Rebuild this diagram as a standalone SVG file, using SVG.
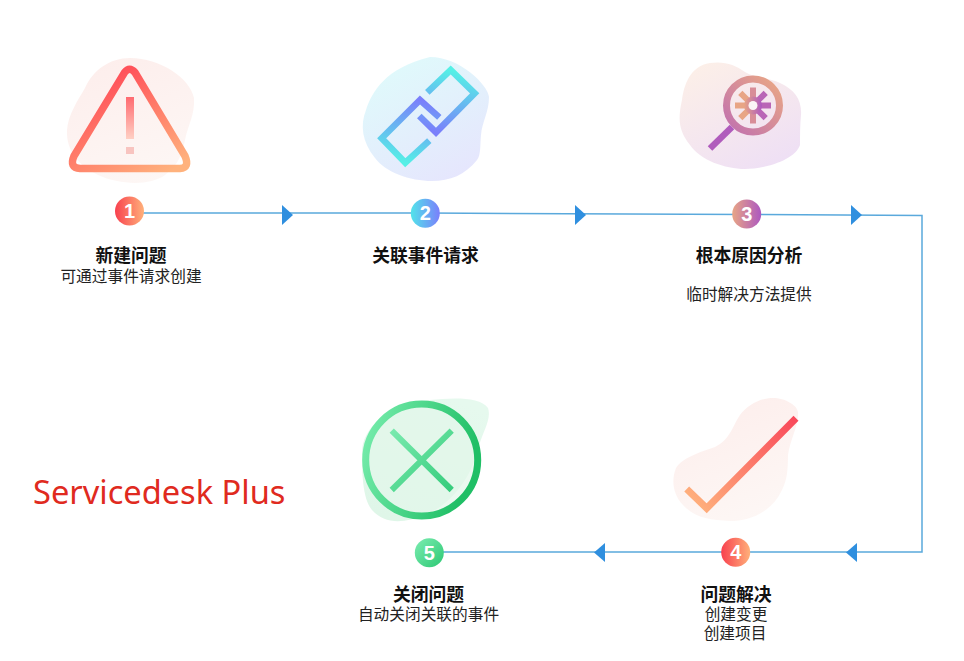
<svg xmlns="http://www.w3.org/2000/svg" width="964" height="661" viewBox="0 0 964 661">
<style>
.t{font-family:"Noto Sans CJK SC","Noto Sans",sans-serif;font-size:17.800px;font-weight:700;fill:#111;text-anchor:middle}
.s{font-family:"Noto Sans CJK SC","Noto Sans",sans-serif;font-size:15.700px;fill:#222;text-anchor:middle}
.n{font-family:"Liberation Sans",Arial,sans-serif;font-size:20px;font-weight:700;fill:#fff;text-anchor:middle}
.w{font-family:"Noto Sans",sans-serif;font-size:32.600px;fill:#e02a20}
.c{fill:none;stroke:#5aa9dc;stroke-width:1.500}
.a{fill:#2f8fdf}
.i{fill:none;stroke-linejoin:miter}
</style>
<defs>
<linearGradient id="red" x1="0.2" y1="0" x2="0.9" y2="1"><stop offset="0" stop-color="#ff4455"/><stop offset="1" stop-color="#ffb27d"/></linearGradient>
<linearGradient id="redv" x1="0" y1="0" x2="0" y2="1"><stop offset="0" stop-color="#ff6a70"/><stop offset="1" stop-color="#ffd0c4"/></linearGradient>
<linearGradient id="check" gradientUnits="userSpaceOnUse" x1="796" y1="418" x2="695" y2="510"><stop offset="0" stop-color="#f9485a"/><stop offset="1" stop-color="#ffb27d"/></linearGradient>
<linearGradient id="blobr" x1="0.3" y1="0" x2="0.7" y2="1"><stop offset="0" stop-color="#fdeeec"/><stop offset="1" stop-color="#fdf7f5"/></linearGradient>
<linearGradient id="blobb" x1="0.2" y1="0" x2="0.8" y2="1"><stop offset="0" stop-color="#dffbfb"/><stop offset="1" stop-color="#e6e5fd"/></linearGradient>
<linearGradient id="blobp" x1="0.2" y1="0" x2="0.8" y2="1"><stop offset="0" stop-color="#fcefe8"/><stop offset="1" stop-color="#eedff5"/></linearGradient>
<linearGradient id="blobg" x1="0.7" y1="0" x2="0.3" y2="1"><stop offset="0" stop-color="#e6f9ee"/><stop offset="1" stop-color="#dff6e8"/></linearGradient>
<linearGradient id="linka" gradientUnits="userSpaceOnUse" x1="450" y1="70" x2="436" y2="132"><stop offset="0" stop-color="#55f0e6"/><stop offset="1" stop-color="#7a7ffb"/></linearGradient>
<linearGradient id="linkb" gradientUnits="userSpaceOnUse" x1="405" y1="163" x2="420" y2="100"><stop offset="0" stop-color="#55f0e6"/><stop offset="1" stop-color="#7a7ffb"/></linearGradient>
<linearGradient id="mag" x1="0" y1="0" x2="1" y2="0"><stop offset="0" stop-color="#e8a585"/><stop offset="1" stop-color="#ad58c0"/></linearGradient>
<linearGradient id="magr" x1="0" y1="1" x2="1" y2="0"><stop offset="0" stop-color="#c070b0"/><stop offset="1" stop-color="#eaa884"/></linearGradient>
<linearGradient id="grn" x1="0" y1="0" x2="1" y2="0.3"><stop offset="0" stop-color="#7aeeaf"/><stop offset="1" stop-color="#20bf66"/></linearGradient>
<linearGradient id="grnx" gradientUnits="userSpaceOnUse" x1="392" y1="430" x2="452" y2="490"><stop offset="0" stop-color="#7aeaae"/><stop offset="1" stop-color="#35cc7c"/></linearGradient>
<linearGradient id="n1" x1="0" y1="0" x2="1" y2="0"><stop offset="0" stop-color="#f8414f"/><stop offset="1" stop-color="#ffb07a"/></linearGradient>
<linearGradient id="n2" x1="0" y1="0" x2="1" y2="0"><stop offset="0" stop-color="#52e4ea"/><stop offset="1" stop-color="#7a7ffb"/></linearGradient>
<linearGradient id="n5" x1="0" y1="0" x2="1" y2="1"><stop offset="0" stop-color="#7dedb2"/><stop offset="1" stop-color="#2cc873"/></linearGradient>
</defs>

<g id="connectors">
<path class="c" d="M143 213H425L747 214.500L922 215.500V552H430"/>
<polygon class="a" points="282,205 293,215 282,225"/>
<polygon class="a" points="575,205 586,215 575,225"/>
<polygon class="a" points="851,205 862,215 851,225"/>
<polygon class="a" points="857,543 846,552.500 857,562"/>
<polygon class="a" points="605,543 594,552.500 605,562"/>
</g>

<g id="node1">
<path fill="url(#blobr)" d="M130 58C160 58 190 78 194 98C195 115 188 125 185 140C182 155 178 165 165 175C150 186 120 185 98 175C78 165 66 150 67 130C68 115 78 100 85 88C93 70 110 58 130 58Z"/>
<path class="i" stroke="url(#red)" stroke-width="7.500" stroke-linejoin="round" d="M124.500 72.500Q129.500 66 135 72.500L185 156Q190 168 180 168.500H80Q69 168 74 156Z"/>
<rect x="126" y="97" width="8" height="42" fill="url(#redv)"/>
<rect x="126" y="147" width="8" height="7" fill="#f8c4c0"/>
<circle cx="129.500" cy="211" r="14.500" fill="url(#n1)"/>
<text class="n" x="129.500" y="218">1</text>
<text class="t" x="131" y="262">新建问题</text>
<text class="s" x="131" y="282">可通过事件请求创建</text>
</g>

<g id="node2">
<path fill="url(#blobb)" d="M430 57C460 57 488 85 489 97C489 112 482 122 481 135C480 145 481 155 477 160C465 175 450 181 432 181C410 181 385 172 375 158C362 142 360 125 366 110C372 92 385 68 430 57Z"/>
<path class="i" stroke="url(#linka)" stroke-width="6.500" d="M427.300 92.300L450.700 70L474.700 93.300L436 132.300L419.300 116"/>
<path class="i" stroke="url(#linkb)" stroke-width="6.500" d="M429.300 140.700L405.300 162.700L381.700 138.300L420 100L439.300 117.300"/>
<circle cx="425.300" cy="213.300" r="14.500" fill="url(#n2)"/>
<text class="n" x="425.300" y="220.300">2</text>
<text class="t" x="425.500" y="262">关联事件请求</text>
</g>

<g id="node3">
<path fill="url(#blobp)" d="M710 63C725 61 735 65 745 72C755 78 770 78 780 83C795 90 802 100 801 115C800 125 800 135 800 145C795 160 765 169 745 169C725 169 700 160 690 145C678 130 678 118 682 100C684 85 690 66 710 63Z"/>
<circle cx="753" cy="105.500" r="26.500" class="i" stroke="url(#magr)" stroke-width="7"/>
<path class="i" stroke="#b05cbc" stroke-width="6.500" d="M732 127L710 148.500"/>
<path stroke="#d88d98" stroke-width="6" d="M753 87.500V123.500" fill="none"/>
<path stroke="#b966b6" stroke-width="6" d="M759 105.500H771M757 101.500L765.700 92.800M757 109.500L765.700 118.200" fill="none"/>
<path stroke="#e8a585" stroke-width="6" d="M735 105.500H747M740.300 92.800L749 101.500M740.300 118.200L749 109.500" fill="none"/>
<circle cx="753" cy="105.500" r="9" fill="url(#mag)"/>
<circle cx="753" cy="105.500" r="4.500" fill="#fbf4f6"/>
<circle cx="746.700" cy="214" r="14.500" fill="url(#mag)"/>
<text class="n" x="746.700" y="221">3</text>
<text class="t" x="749" y="262">根本原因分析</text>
<text class="s" x="749" y="300">临时解决方法提供</text>
</g>

<g id="node4">
<path fill="url(#blobr)" d="M773 398C785 398 797 405 798 412C799 425 790 440 788 455C788 470 787 480 782 490C772 512 750 521 730 521C710 520 695 518 683 505C673 495 671 480 676 468C682 458 700 452 715 447C730 440 733 425 740 415C748 405 760 398 773 398Z"/>
<path class="i" stroke="url(#check)" stroke-width="7" d="M686.700 489L706.700 508.300L796 418.300"/>
<circle cx="735.700" cy="552.300" r="14.500" fill="url(#n1)"/>
<text class="n" x="735.700" y="559.300">4</text>
<text class="t" x="736" y="601">问题解决</text>
<text class="s" x="736" y="620">创建变更</text>
<text class="s" x="735" y="639">创建项目</text>
</g>

<g id="node5">
<path fill="url(#blobg)" d="M430 400C450 398 480 396 488 408C492 420 482 432 478 450C470 480 450 505 425 515C405 523 385 525 372 510C362 498 362 470 362 450C365 420 400 402 430 400Z"/>
<circle cx="421.700" cy="460" r="56" fill="#e2f7ea" fill-opacity="0.7" stroke="url(#grn)" stroke-width="7"/>
<path class="i" stroke="url(#grnx)" stroke-width="6" d="M391.700 430.700L451.700 490M451.700 430.700L391.700 490"/>
<circle cx="429.300" cy="552.700" r="14.500" fill="url(#n5)"/>
<text class="n" x="429.300" y="559.700">5</text>
<text class="t" x="428.500" y="601">关闭问题</text>
<text class="s" x="428.500" y="620">自动关闭关联的事件</text>
</g>

<text class="w" x="33" y="504">Servicedesk Plus</text>
</svg>
